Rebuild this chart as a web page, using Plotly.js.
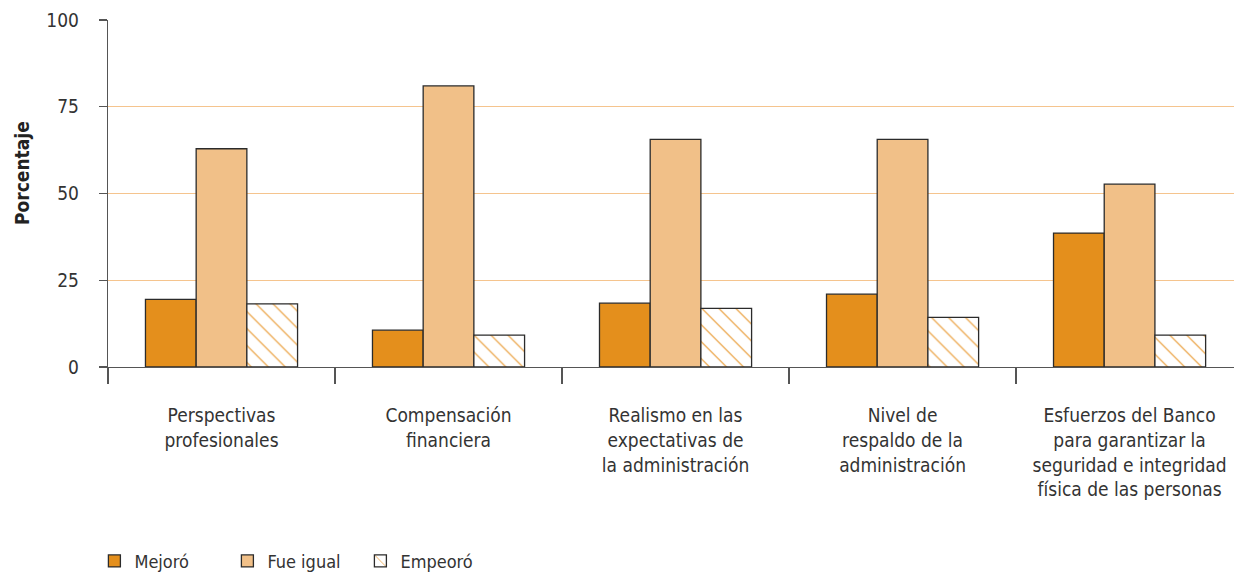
<!DOCTYPE html>
<html>
<head>
<meta charset="utf-8">
<script src="https://cdn.plot.ly/plotly-3.0.1.min.js"></script>
<style>
html,body{margin:0;padding:0;background:#fff;}
#chart{width:1234px;height:575px;}
</style>
</head>
<body>
<div id="chart"></div>
<script>
const categories = [
  "Perspectivas<br>profesionales",
  "Compensación<br>financiera",
  "Realismo en las<br>expectativas de<br>la administración",
  "Nivel de<br>respaldo de la<br>administración",
  "Esfuerzos del Banco<br>para garantizar la<br>seguridad e integridad<br>física de las personas"
];
const mejoro   = [19.5, 10.6, 18.4, 21.0, 38.6];
const fueIgual = [62.9, 81.0, 65.6, 65.6, 52.7];
const empeoro  = [18.2, 9.2, 16.9, 14.3, 9.2];
const seriesNames = ["Mejoró", "Fue igual", "Empeoró"];
const yTicks = [0, 25, 50, 75, 100];
const yTitle = "Porcentaje";

const FONT = "'DejaVu Sans Condensed', 'Liberation Sans Narrow', sans-serif";
const outline = {color: '#2b2b2b', width: 1.3};

const traces = [
  {type: 'bar', name: seriesNames[0], x: categories, y: mejoro,
   marker: {color: '#E48F1C', line: outline}},
  {type: 'bar', name: seriesNames[1], x: categories, y: fueIgual,
   marker: {color: '#F1C088', line: outline}},
  {type: 'bar', name: seriesNames[2], x: categories, y: empeoro,
   marker: {color: '#ffffff', line: outline,
     pattern: {shape: '\\', fgcolor: '#E8962A', bgcolor: '#ffffff', size: 12, solidity: 0.09}}}
];

const layout = {
  width: 1234, height: 575,
  margin: {l: 108, r: 0, t: 20, b: 208},
  paper_bgcolor: '#fff', plot_bgcolor: '#fff',
  font: {family: FONT, size: 18, color: '#333'},
  barmode: 'group',
  bargap: 0.33, bargroupgap: 0,
  showlegend: true,
  legend: {orientation: 'h', x: 0.0765, xref: 'container', xanchor: 'left',
           y: 0.024, yref: 'container', yanchor: 'middle',
           font: {family: FONT, size: 18, color: '#333'},
           entrywidth: 88, traceorder: 'normal'},
  xaxis: {
    type: 'category',
    range: [-0.5, 4.46],
    tickson: 'boundaries',
    ticks: 'outside', ticklen: 16, tickcolor: '#555', tickwidth: 1.3,
    showline: true, linecolor: '#555', linewidth: 1.3,
    showgrid: false, zeroline: false,
    tickfont: {family: FONT, size: 19, color: '#333'},
    ticklabelstandoff: 31
  },
  yaxis: {
    range: [0, 100],
    tickvals: yTicks, ticktext: yTicks.map(String),
    ticks: 'outside', ticklen: 8, tickcolor: '#555', tickwidth: 1.3,
    showline: true, linecolor: '#555', linewidth: 1.3,
    showgrid: true, gridcolor: '#F5C48E', gridwidth: 1.3,
    zeroline: false,
    tickfont: {family: FONT, size: 19, color: '#333'},
    ticklabelstandoff: 16
  },
  annotations: [{
    text: '<b>' + yTitle + '</b>', textangle: -90,
    xref: 'paper', yref: 'paper', x: (22 - 108) / 1126, y: 0.559,
    xanchor: 'center', yanchor: 'middle', showarrow: false,
    font: {family: FONT, size: 19, color: '#222'}
  }]
};

Plotly.newPlot('chart', traces, layout, {displayModeBar: false, staticPlot: true});
</script>
</body>
</html>
